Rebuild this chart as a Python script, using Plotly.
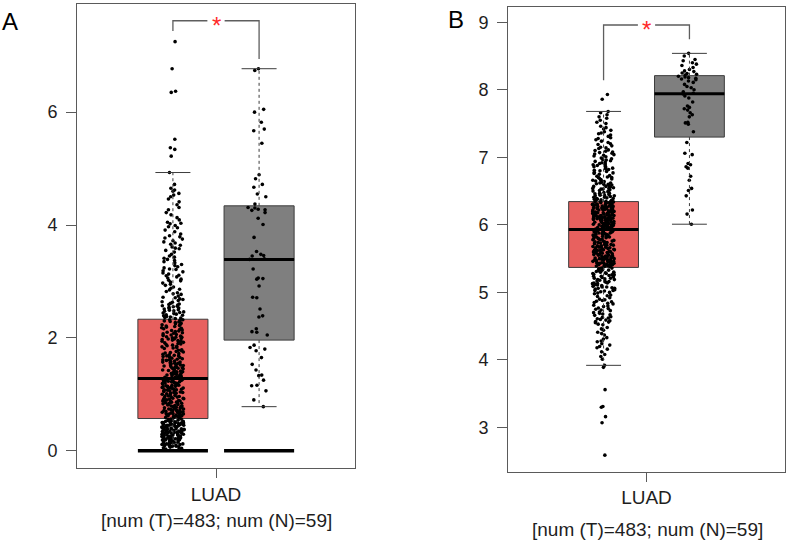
import numpy as np
import plotly.graph_objects as go

# ---------------- data ----------------
categories = ["LUAD"]
sample_note = "[num (T)=483; num (N)=59]"
panel_labels = ["A", "B"]

# Panel A - tumour (n=483)
tumor_a = [
    # 0.00-0.25
    0.02, 0.04, 0.03, 0.07, 0.05, 0.09, 0.06, 0.11, 0.08, 0.12,
    0.10, 0.14, 0.13, 0.16, 0.11, 0.18, 0.15, 0.19, 0.17, 0.21,
    0.14, 0.22, 0.20, 0.24, 0.19, 0.23, 0.12, 0.25, 0.21, 0.16,
    0.24, 0.08, 0.18, 0.22, 0.13, 0.25, 0.20, 0.17, 0.23, 0.10,
    0.15, 0.24, 0.19, 0.21, 0.09,
    # 0.25-0.57
    0.26, 0.31, 0.28, 0.35, 0.29, 0.40, 0.33, 0.44, 0.27, 0.37,
    0.48, 0.30, 0.42, 0.52, 0.34, 0.46, 0.39, 0.55, 0.32, 0.43,
    0.50, 0.36, 0.28, 0.47, 0.41, 0.53, 0.38, 0.45, 0.31, 0.49,
    0.56, 0.35, 0.44, 0.27, 0.51, 0.40, 0.33, 0.48, 0.54, 0.37,
    0.29, 0.46, 0.42, 0.52, 0.36, 0.30, 0.50, 0.39, 0.45, 0.55,
    0.34, 0.47, 0.41, 0.26, 0.53, 0.38, 0.49, 0.32, 0.43, 0.56,
    0.44, 0.35, 0.51, 0.40, 0.28, 0.47, 0.54, 0.37, 0.42, 0.31,
    0.48, 0.39, 0.52, 0.33, 0.45, 0.50,
    # 0.57-1.00
    0.58, 0.63, 0.71, 0.60, 0.85, 0.66, 0.93, 0.74, 0.61, 0.79,
    0.88, 0.69, 0.97, 0.64, 0.82, 0.76, 0.59, 0.91, 0.72, 0.67,
    0.86, 0.99, 0.62, 0.78, 0.70, 0.94, 0.81, 0.65, 0.89, 0.75,
    0.60, 0.84, 0.96, 0.68, 0.77, 0.92, 0.63, 0.87, 0.73, 0.58,
    0.80, 0.95, 0.66, 0.83, 0.71, 0.98, 0.62, 0.90, 0.76, 0.69,
    0.85, 0.64, 0.93, 0.78, 0.61, 0.88, 0.74, 0.97, 0.67, 0.82,
    0.59, 0.91, 0.72, 0.86, 0.65, 0.79, 0.95, 0.70, 0.84, 0.77,
    0.89, 0.68,
    # 1.00-1.28
    1.01, 1.08, 1.15, 1.03, 1.22, 1.11, 1.26, 1.05, 1.18, 1.13,
    1.27, 1.02, 1.20, 1.09, 1.24, 1.06, 1.16, 1.12, 1.25, 1.04,
    1.19, 1.10, 1.23, 1.07, 1.14, 1.21, 1.00, 1.17, 1.26, 1.08,
    1.13, 1.22, 1.05, 1.19, 1.11, 1.27, 1.03, 1.16, 1.24, 1.09,
    1.20, 1.14, 1.06, 1.25, 1.12, 1.18, 1.02, 1.23, 1.28,
    # 1.28-1.80
    1.30, 1.42, 1.55, 1.33, 1.68, 1.47, 1.76, 1.38, 1.61, 1.51,
    1.29, 1.72, 1.44, 1.58, 1.35, 1.65, 1.49, 1.79, 1.40, 1.53,
    1.63, 1.31, 1.70, 1.46, 1.57, 1.37, 1.74, 1.52, 1.43, 1.66,
    1.34, 1.60, 1.77, 1.48, 1.39, 1.69, 1.54, 1.32, 1.62, 1.45,
    1.75, 1.50, 1.36, 1.67, 1.56, 1.41, 1.73, 1.59, 1.30, 1.64,
    1.48, 1.78, 1.43, 1.55, 1.37, 1.71, 1.52, 1.46, 1.61, 1.34,
    1.68, 1.40, 1.57, 1.50,
    # 1.80-2.33
    1.82, 1.95, 2.08, 1.87, 2.21, 1.99, 2.30, 1.91, 2.14, 2.03,
    1.84, 2.26, 1.97, 2.11, 1.89, 2.18, 2.01, 2.32, 1.93, 2.06,
    2.16, 1.81, 2.24, 1.98, 2.10, 1.86, 2.28, 2.04, 1.94, 2.19,
    1.88, 2.13, 2.31, 2.00, 1.92, 2.22, 2.07, 1.85, 2.15, 1.96,
    2.27, 2.02, 1.90, 2.20, 2.09, 1.83, 2.25, 2.12, 2.05, 2.29,
    1.94, 2.17, 2.23, 2.01, 1.98, 2.32,
    # 2.33-3.00
    2.34, 2.45, 2.58, 2.38, 2.71, 2.50, 2.86, 2.42, 2.64, 2.55,
    2.93, 2.36, 2.77, 2.48, 2.61, 2.40, 2.82, 2.53, 2.97, 2.44,
    2.68, 2.57, 2.35, 2.74, 2.47, 2.90, 2.60, 2.39, 2.80, 2.52,
    2.66, 2.43, 2.99, 2.56, 2.72, 2.37, 2.85, 2.49, 2.63, 2.41,
    2.78, 2.54, 2.95, 2.46, 2.69, 2.59, 2.88, 2.51,
    # 3.00-3.50
    3.02, 3.15, 3.28, 3.06, 3.41, 3.19, 3.48, 3.10, 3.33, 3.24,
    3.04, 3.37, 3.13, 3.45, 3.21, 3.08, 3.30, 3.17, 3.43, 3.26,
    3.11, 3.35, 3.01, 3.39, 3.22,
    # 3.50-4.00
    3.52, 3.66, 3.79, 3.58, 3.91, 3.70, 3.97, 3.61, 3.84, 3.75,
    3.55, 3.88, 3.64, 3.95, 3.72, 3.59, 3.81, 3.68, 3.99, 3.77,
    # 4.00-4.93
    4.05, 4.31, 4.02, 4.56, 4.13, 4.62, 4.22, 4.46, 4.09, 4.60,
    4.27, 4.93, 4.18, 4.53, 4.36, 4.65, 4.03, 4.41, 4.72, 4.50,
    # outliers
    5.22, 5.34, 5.37, 5.52, 6.35, 6.37, 6.77, 7.25,
]

# Panel A - normal (n=59)
normal_a = [
    0.78, 0.90, 1.06, 1.15, 1.16, 1.25, 1.33, 1.34, 1.43, 1.53,
    1.65, 1.77, 1.80, 1.83, 1.87, 2.05, 2.10, 2.11, 2.16, 2.37,
    2.39, 2.51, 2.71, 2.72, 2.92, 3.04, 3.05, 3.06, 3.22, 3.39,
    3.40, 3.45, 3.46, 3.48, 3.53, 3.78, 4.01, 4.12, 4.22, 4.26,
    4.27, 4.28, 4.30, 4.31, 4.37, 4.50, 4.55, 4.67, 4.72, 4.82,
    4.89, 5.45, 5.67, 5.70, 5.82, 6.00, 6.05, 6.74, 6.77,
]

# Panel B - tumour (n=483)
tumor_b = [
    # low outliers
    2.59, 3.07, 3.16, 3.30, 3.31, 3.56, 3.89,
    # 3.92-4.50
    3.92, 4.01, 4.16, 4.08, 4.24, 4.33, 4.12, 4.41, 4.20, 4.46,
    4.28, 4.37, 4.05, 4.44, 4.22, 4.31, 4.48, 4.18, 4.39, 4.27,
    # 4.50-5.00
    4.52, 4.61, 4.74, 4.56, 4.88, 4.67, 4.95, 4.59, 4.81, 4.71,
    4.53, 4.92, 4.64, 4.85, 4.77, 4.58, 4.98, 4.69, 4.83, 4.62,
    4.90, 4.73, 4.55, 4.87, 4.66, 4.96, 4.79, 4.60, 4.84, 4.70,
    4.94, 4.57, 4.76, 4.89, 4.63, 4.99, 4.80, 4.68, 4.86, 4.75,
    # 5.00-5.37
    5.01, 5.12, 5.24, 5.05, 5.31, 5.17, 5.35, 5.08, 5.28, 5.20,
    5.03, 5.33, 5.14, 5.26, 5.10, 5.22, 5.36, 5.06, 5.29, 5.16,
    5.02, 5.25, 5.13, 5.34, 5.19, 5.07, 5.30, 5.21, 5.11, 5.27,
    5.04, 5.32, 5.15, 5.23, 5.09, 5.36, 5.18, 5.00, 5.26, 5.13,
    5.30, 5.08, 5.21, 5.34, 5.16, 5.03, 5.28, 5.11, 5.24, 5.19,
    5.33, 5.06, 5.29, 5.14,
    # 5.37-5.93
    5.38, 5.45, 5.57, 5.41, 5.69, 5.50, 5.82, 5.43, 5.63, 5.54,
    5.88, 5.40, 5.72, 5.48, 5.60, 5.39, 5.78, 5.52, 5.91, 5.44,
    5.66, 5.56, 5.85, 5.42, 5.74, 5.49, 5.61, 5.90, 5.46, 5.68,
    5.53, 5.80, 5.39, 5.64, 5.87, 5.47, 5.71, 5.58, 5.83, 5.41,
    5.62, 5.51, 5.92, 5.44, 5.76, 5.55, 5.67, 5.84, 5.40, 5.59,
    5.73, 5.48, 5.89, 5.65, 5.43, 5.79, 5.52, 5.70, 5.86, 5.46,
    5.60, 5.81, 5.38, 5.75, 5.54, 5.91, 5.49, 5.66, 5.42, 5.77,
    5.57, 5.88, 5.45, 5.69, 5.62, 5.83, 5.50, 5.72, 5.40, 5.64,
    5.90, 5.53, 5.78, 5.47, 5.67, 5.85, 5.56, 5.74, 5.44, 5.61,
    5.80, 5.51, 5.92, 5.58, 5.71, 5.41, 5.87, 5.63, 5.48, 5.76,
    5.55, 5.82, 5.43, 5.68, 5.89, 5.59, 5.73, 5.46, 5.65, 5.84,
    5.52, 5.79, 5.39, 5.70, 5.90, 5.57, 5.75, 5.50, 5.86, 5.62,
    5.93,
    # 5.93-6.345
    5.94, 6.02, 6.15, 5.98, 6.27, 6.08, 6.33, 6.00, 6.20, 6.11,
    6.30, 5.96, 6.23, 6.05, 6.17, 5.95, 6.29, 6.09, 6.34, 6.01,
    6.13, 6.25, 5.97, 6.19, 6.06, 6.32, 6.10, 6.22, 5.99, 6.14,
    6.28, 6.03, 6.18, 6.31, 6.07, 6.24, 5.94, 6.16, 6.04, 6.26,
    6.12, 6.33, 5.98, 6.21, 6.08, 6.29, 6.00, 6.19, 6.11, 6.27,
    5.96, 6.15, 6.30, 6.05, 6.23, 6.13, 6.02, 6.34, 6.09, 6.17,
    6.25, 5.95, 6.20, 6.06, 6.32, 6.12, 5.99, 6.28, 6.16, 6.03,
    6.22, 6.10, 6.31, 5.97, 6.18, 6.07, 6.26, 6.14, 6.01, 6.24,
    6.33, 6.04, 6.21, 6.11, 5.96, 6.29, 6.15, 6.08, 6.19, 6.00,
    6.27, 6.12, 6.34, 6.05, 6.23, 5.98, 6.17, 6.30, 6.09, 6.20,
    6.02, 6.25, 6.13, 5.94, 6.31, 6.16, 6.06, 6.22, 6.10, 6.28,
    6.03, 6.18, 6.32, 6.07, 6.24, 6.14, 5.99, 6.26, 6.11, 6.34,
    # 6.345-7.00
    6.35, 6.48, 6.62, 6.39, 6.77, 6.54, 6.90, 6.43, 6.69, 6.57,
    6.97, 6.37, 6.82, 6.51, 6.66, 6.41, 6.86, 6.59, 6.45, 6.73,
    6.36, 6.94, 6.53, 6.70, 6.47, 6.84, 6.61, 6.40, 6.79, 6.56,
    6.99, 6.44, 6.67, 6.52, 6.88, 6.38, 6.75, 6.60, 6.46, 6.92,
    6.58, 6.42, 6.81, 6.65, 6.50, 6.96, 6.36, 6.72, 6.55, 6.87,
    6.63, 6.39, 6.78, 6.49, 6.93, 6.68, 6.44, 6.85, 6.57, 6.71,
    6.41, 6.98, 6.60, 6.53, 6.76, 6.47, 6.89, 6.64, 6.38, 6.83,
    6.54, 6.70, 6.46, 6.95, 6.62, 6.50, 6.80, 6.43, 6.66, 6.91,
    # 7.00-7.68
    7.02, 7.05, 7.11, 7.03, 7.19, 7.08, 7.26, 7.14, 7.36, 7.01,
    7.22, 7.42, 7.06, 7.31, 7.17, 7.50, 7.09, 7.40, 7.24, 7.55,
    7.04, 7.33, 7.13, 7.46, 7.28, 7.60, 7.10, 7.38, 7.20, 7.52,
    7.07, 7.63, 7.29, 7.15, 7.44, 7.66, 7.35, 7.58, 7.68,
    # high outliers
    7.86, 7.93,
]

# Panel B - normal (n=59)
normal_b = [
    6.01, 6.16, 6.22, 6.43, 6.51, 6.54, 6.66, 6.72, 6.84, 6.86,
    6.89, 6.91, 7.04, 7.06, 7.22, 7.38, 7.49, 7.51, 7.52, 7.60,
    7.63, 7.66, 7.70, 7.72, 7.74, 7.76, 7.82, 7.88, 7.91, 7.94,
    7.95, 7.97, 8.00, 8.03, 8.05, 8.08, 8.11, 8.13, 8.15, 8.16,
    8.17, 8.18, 8.19, 8.20, 8.22, 8.23, 8.24, 8.25, 8.27, 8.28,
    8.30, 8.33, 8.36, 8.38, 8.40, 8.43, 8.45, 8.50, 8.54,
]

baseline_a = 0.0          # flat line drawn at the foot of both boxes in panel A
ticks_a = [0, 2, 4, 6]
ticks_b = [3, 4, 5, 6, 7, 8, 9]

# ---------------- styles ----------------
FONT = "Liberation Sans, Arial, Helvetica, sans-serif"
TUMOR_FILL = "#E8615F"
NORMAL_FILL = "#7F7F7F"
EDGE = "#3C3C3C"
FRAME = "#5A5A5A"
TXT = "#1E1E1E"
POS_T, POS_N = -0.155, 0.155
BW = 0.252

W, H = 787, 542


def stats(arr):
    a = np.asarray(arr, dtype=float)
    q1, med, q3 = np.percentile(a, [25, 50, 75])
    iqr = q3 - q1
    lo = a[a >= q1 - 1.5 * iqr].min()
    hi = a[a <= q3 + 1.5 * iqr].max()
    return q1, med, q3, lo, hi


fig = go.Figure()


def add_group(arr, pos, fill, xa, ya, baseline=None):
    q1, med, q3, lo, hi = stats(arr)
    # box body
    fig.add_trace(go.Box(
        x=[pos], q1=[q1], median=[med], q3=[q3], lowerfence=[q1], upperfence=[q3],
        width=BW, fillcolor=fill, line=dict(color=EDGE, width=1), whiskerwidth=0,
        boxpoints=False, xaxis=xa, yaxis=ya, hoverinfo="skip", showlegend=False))
    # jittered sample points
    fig.add_trace(go.Box(
        y=arr, x0=pos, width=BW, boxpoints="all", jitter=0.32, pointpos=0,
        fillcolor="rgba(0,0,0,0)", line=dict(color="rgba(0,0,0,0)", width=0),
        marker=dict(color="black", size=3.6), xaxis=xa, yaxis=ya,
        hoverinfo="y", showlegend=False))
    # dashed whiskers
    fig.add_trace(go.Scatter(
        x=[pos, pos, None, pos, pos], y=[q3, hi, None, q1, lo], mode="lines",
        line=dict(color=EDGE, width=1, dash="3px,3px"), xaxis=xa, yaxis=ya,
        hoverinfo="skip", showlegend=False))
    # whisker caps
    fig.add_trace(go.Scatter(
        x=[pos - BW / 4, pos + BW / 4, None, pos - BW / 4, pos + BW / 4],
        y=[hi, hi, None, lo, lo], mode="lines",
        line=dict(color=EDGE, width=1), xaxis=xa, yaxis=ya,
        hoverinfo="skip", showlegend=False))
    # thick median
    fig.add_trace(go.Scatter(
        x=[pos - BW / 2, pos + BW / 2], y=[med, med], mode="lines",
        line=dict(color="black", width=3), xaxis=xa, yaxis=ya,
        hoverinfo="skip", showlegend=False))
    if baseline is not None:
        fig.add_trace(go.Scatter(
            x=[pos - BW / 2, pos + BW / 2], y=[baseline, baseline], mode="lines",
            line=dict(color="black", width=3.5), xaxis=xa, yaxis=ya,
            hoverinfo="skip", showlegend=False))
    return max(arr)


def add_bracket(xa, ya, t_end, n_end, top):
    gap = 0.031
    fig.add_trace(go.Scatter(
        x=[POS_T, POS_T, -gap, None, gap, POS_N, POS_N],
        y=[t_end, top, top, None, top, top, n_end], mode="lines",
        line=dict(color="#5E5E5E", width=1.3), xaxis=xa, yaxis=ya,
        hoverinfo="skip", showlegend=False))
    fig.add_annotation(x=0, y=top, xref=xa, yref=ya, text="*", showarrow=False,
                       font=dict(family=FONT, size=24, color="#FF2A2A"),
                       xanchor="center", yanchor="middle", yshift=-5)


# Panel A
mt = add_group(tumor_a, POS_T, TUMOR_FILL, "x", "y", baseline_a)
mn = add_group(normal_a, POS_N, NORMAL_FILL, "x", "y", baseline_a)
add_bracket("x", "y", mt + 0.19, mn + 0.17, max(mt, mn) + 0.37)

# Panel B
mt = add_group(tumor_b, POS_T, TUMOR_FILL, "x2", "y2")
mn = add_group(normal_b, POS_N, NORMAL_FILL, "x2", "y2")
add_bracket("x2", "y2", mt + 0.21, mn + 0.21, max(mt, mn) + 0.42)

axis_common = dict(showline=True, mirror=True, linecolor=FRAME, linewidth=1,
                   showgrid=False, zeroline=False, ticks="outside", tickcolor=FRAME,
                   tickwidth=1)

fig.update_layout(
    width=W, height=H, margin=dict(l=0, r=0, t=0, b=0),
    paper_bgcolor="white", plot_bgcolor="white", showlegend=False,
    boxmode="overlay",
    font=dict(family=FONT, color=TXT),
    xaxis=dict(domain=[77 / W, 355 / W], range=[-0.5, 0.5], tickvals=[0],
               ticktext=categories, ticklen=9, tickfont=dict(size=19, color=TXT),
               anchor="y", **axis_common),
    yaxis=dict(domain=[(H - 468) / H, (H - 4) / H], range=[-0.307, 7.917],
               tickvals=ticks_a, ticklen=10, tickfont=dict(size=18, color=TXT),
               ticklabelstandoff=5, anchor="x", **axis_common),
    xaxis2=dict(domain=[508 / W, 785 / W], range=[-0.5, 0.5], tickvals=[0],
                ticktext=categories, ticklen=9, tickfont=dict(size=19, color=TXT),
                anchor="y2", **axis_common),
    yaxis2=dict(domain=[(H - 471.5) / H, (H - 7.3) / H], range=[2.348, 9.222],
                tickvals=ticks_b, ticklen=10, tickfont=dict(size=18, color=TXT),
                ticklabelstandoff=5, anchor="x2", **axis_common),
)

# sample-size notes under each panel
fig.add_annotation(x=216 / W, y=(H - 520.5) / H, xref="paper", yref="paper",
                   text=sample_note, showarrow=False, xanchor="center", yanchor="middle",
                   font=dict(family=FONT, size=19, color=TXT))
fig.add_annotation(x=647 / W, y=(H - 529) / H, xref="paper", yref="paper",
                   text=sample_note, showarrow=False, xanchor="center", yanchor="middle",
                   font=dict(family=FONT, size=19, color=TXT))

# panel letters
fig.add_annotation(x=0 / W, y=(H - 21) / H, xref="paper", yref="paper",
                   text=panel_labels[0], showarrow=False, xanchor="left", yanchor="middle",
                   font=dict(family=FONT, size=24, color="black"))
fig.add_annotation(x=446 / W, y=(H - 19.5) / H, xref="paper", yref="paper",
                   text=panel_labels[1], showarrow=False, xanchor="left", yanchor="middle",
                   font=dict(family=FONT, size=24, color="black"))

fig.write_html("out.html",
               config={"displayModeBar": False},
               post_script="document.body.style.margin='0px';"
                           "document.body.style.overflow='hidden';")
